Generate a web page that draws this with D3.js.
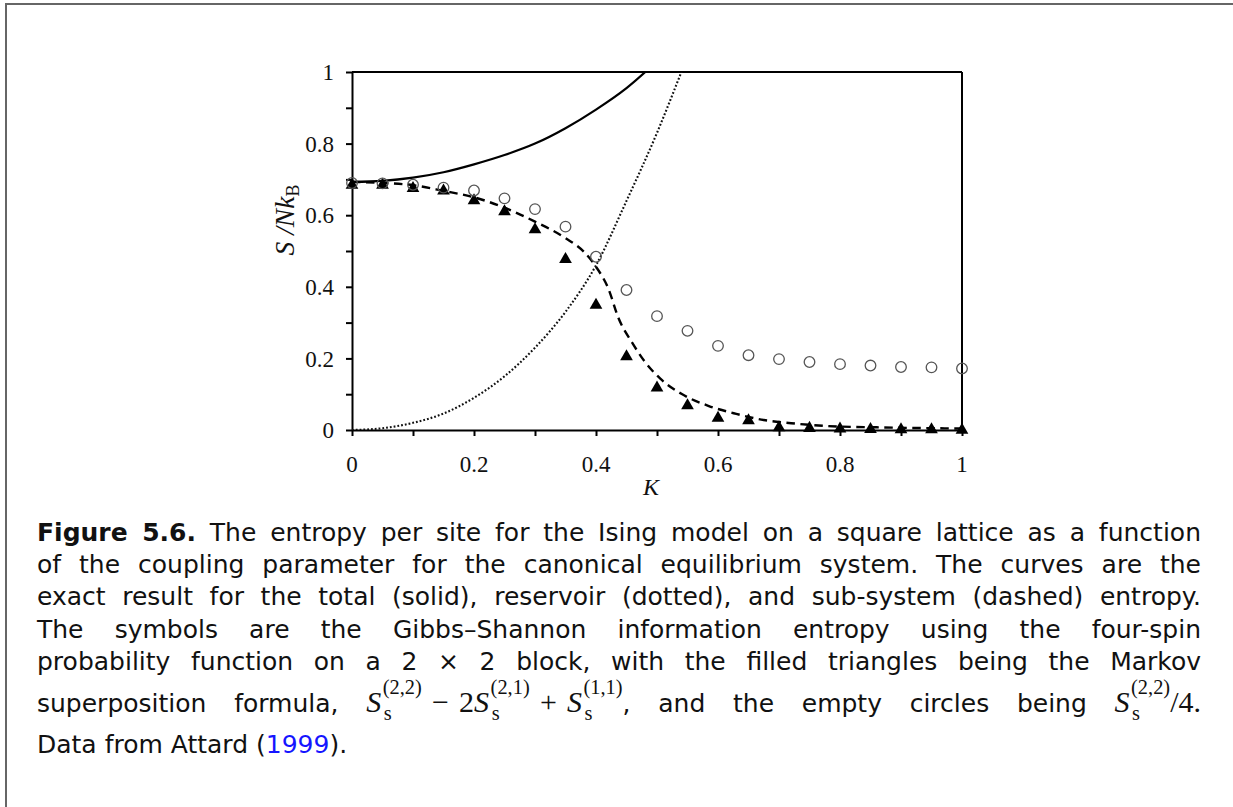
<!DOCTYPE html>
<html>
<head>
<meta charset="utf-8">
<script src="https://cdn.jsdelivr.net/npm/d3@7"></script>
<style>
  html, body { margin: 0; padding: 0; background: #fff; overflow: hidden; }
  body { width: 1233px; height: 807px; position: relative; }
  .frame { position: absolute; left: 5px; top: 3px; width: 1400px; height: 900px;
           border-left: 2px solid #666; border-top: 2px solid #666; }
  svg { position: absolute; left: 0; top: 0; }
  .cap { position: absolute; left: 37px; width: 1164px; font-family: "DejaVu Sans", sans-serif;
         font-size: 25px; line-height: 32px; color: #111; white-space: nowrap; }
  .just { text-align: justify; text-align-last: justify; }
  .cap b { font-weight: bold; }
  .m { font-family: "Liberation Serif", "Times New Roman", serif; font-size: 30px; line-height: 0; white-space: nowrap; }
  .m i { font-style: italic; padding-right: 0.05em; }
  .op { margin: 0 0.34em; }
  .scr { position: relative; font-size: 0.68em; }
  .scr .sup { position: relative; top: -0.86em; }
  .scr .sub { position: absolute; left: 0.05em; top: 0.42em; line-height: 1; }
  a { color: #1515ff; text-decoration: none; }
</style>
</head>
<body>
<div class="frame"></div>
<svg id="chart" width="1233" height="807"></svg>

<div class="cap just" style="top:517px"><b>Figure 5.6.</b> The entropy per site for the Ising model on a square lattice as a function</div>
<div class="cap just" style="top:549px">of the coupling parameter for the canonical equilibrium system. The curves are the</div>
<div class="cap just" style="top:581px">exact result for the total (solid), reservoir (dotted), and sub-system (dashed) entropy.</div>
<div class="cap just" style="top:614px">The symbols are the Gibbs–Shannon information entropy using the four-spin</div>
<div class="cap just" style="top:646px">probability function on a 2 × 2 block, with the filled triangles being the Markov</div>
<div class="cap just" style="top:688px">superposition formula, <span class="m"><i>S</i><span class="scr"><span class="sup">(2,2)</span><span class="sub">s</span></span><span class="op">−</span>2<i>S</i><span class="scr"><span class="sup">(2,1)</span><span class="sub">s</span></span><span class="op">+</span><i>S</i><span class="scr"><span class="sup">(1,1)</span><span class="sub">s</span></span></span>, and the empty circles being <span class="m"><i>S</i><span class="scr"><span class="sup">(2,2)</span><span class="sub">s</span></span>/4.</span></div>
<div class="cap" style="top:729px">Data from Attard (<a>1999</a>).</div>

<script>
// Exact curves: total, reservoir and sub-system entropy per site vs coupling K
const totalK = [0, 0.05, 0.1, 0.15, 0.2, 0.25, 0.3, 0.35, 0.4, 0.45, 0.5];
const totalS = [0.693, 0.696, 0.705, 0.720, 0.742, 0.768, 0.800, 0.843, 0.895, 0.955, 1.03];

const resK = [0, 0.05, 0.1, 0.15, 0.2, 0.25, 0.3, 0.35, 0.4, 0.45, 0.5, 0.54, 0.57];
const resS = [0, 0.005, 0.02, 0.046, 0.09, 0.15, 0.23, 0.33, 0.46, 0.64, 0.83, 1.0, 1.13];

const subK = [0, 0.05, 0.1, 0.15, 0.2, 0.25, 0.3, 0.35, 0.38, 0.40, 0.42, 0.437, 0.46, 0.48, 0.505, 0.54, 0.585, 0.63, 0.675, 0.72, 0.78, 0.86, 1.0];
const subS = [0.693, 0.690, 0.684, 0.668, 0.650, 0.621, 0.582, 0.536, 0.498, 0.456, 0.396, 0.312, 0.242, 0.191, 0.144, 0.101, 0.067, 0.045, 0.028, 0.019, 0.011, 0.0075, 0.004];

// Gibbs–Shannon estimates on a 2x2 block
const symK = [0, 0.05, 0.1, 0.15, 0.2, 0.25, 0.3, 0.35, 0.4, 0.45, 0.5, 0.55, 0.6, 0.65, 0.7, 0.75, 0.8, 0.85, 0.9, 0.95, 1.0];
const markovS = [0.684, 0.684, 0.675, 0.668, 0.641, 0.610, 0.560, 0.477, 0.349, 0.205, 0.118, 0.068, 0.033, 0.026, 0.0065, 0.005, 0.003, 0.002, 0.001, 0.001, 0.0];
const quarterS = [0.690, 0.689, 0.685, 0.677, 0.669, 0.647, 0.617, 0.568, 0.484, 0.391, 0.318, 0.277, 0.235, 0.209, 0.198, 0.190, 0.184, 0.180, 0.176, 0.175, 0.172];

const xMajor = [0, 0.2, 0.4, 0.6, 0.8, 1];
const yMajor = [0, 0.2, 0.4, 0.6, 0.8, 1];
const minorTicks = [0, 0.1, 0.2, 0.3, 0.4, 0.5, 0.6, 0.7, 0.8, 0.9, 1];

const svg = d3.select("#chart");
const x = d3.scaleLinear().domain([0, 1]).range([352, 962]);
const y = d3.scaleLinear().domain([0, 1]).range([430, 72]);
const serif = '"Liberation Serif", "Times New Roman", serif';

svg.append("defs").append("clipPath").attr("id", "plotClip")
  .append("rect").attr("x", x(0)).attr("y", y(1)).attr("width", x(1) - x(0)).attr("height", y(0) - y(1));

// axes
const xAxis = d3.axisBottom(x).tickValues(minorTicks).tickSize(6).tickSizeOuter(0).tickFormat("");
const yAxis = d3.axisLeft(y).tickValues(minorTicks).tickSize(6).tickSizeOuter(0).tickFormat("");
const gx = svg.append("g").attr("transform", `translate(0,${y(0)})`).call(xAxis);
const gy = svg.append("g").attr("transform", `translate(${x(0)},0)`).call(yAxis);
[gx, gy].forEach(g => {
  g.selectAll("path, line").attr("stroke", "#000").attr("stroke-width", 2);
});

// frame top and right
svg.append("line").attr("x1", x(0)).attr("x2", x(1)).attr("y1", y(1)).attr("y2", y(1))
  .attr("stroke", "#000").attr("stroke-width", 2);
svg.append("line").attr("x1", x(1)).attr("x2", x(1)).attr("y1", y(1)).attr("y2", y(0))
  .attr("stroke", "#000").attr("stroke-width", 2);

// tick labels
svg.append("g").selectAll("text").data(xMajor).join("text")
  .attr("x", d => x(d)).attr("y", 472).attr("text-anchor", "middle")
  .attr("font-family", serif).attr("font-size", 23).attr("fill", "#111").text(d => String(d));
svg.append("g").selectAll("text").data(yMajor).join("text")
  .attr("x", 334).attr("y", d => y(d)).attr("dy", "0.36em").attr("text-anchor", "end")
  .attr("font-family", serif).attr("font-size", 23).attr("fill", "#111").text(d => String(d));

// axis titles
svg.append("text").attr("x", 651).attr("y", 495).attr("text-anchor", "middle")
  .attr("font-family", serif).attr("font-size", 24).attr("font-style", "italic").attr("fill", "#111").text("K");
const yt = svg.append("text").attr("transform", "translate(294,220) rotate(-90)").attr("text-anchor", "middle")
  .attr("font-family", serif).attr("font-size", 27.5).attr("fill", "#111");
yt.append("tspan").attr("font-style", "italic").text("S /Nk");
yt.append("tspan").attr("font-size", 18).attr("dy", 5).text("B");

// curves
const plot = svg.append("g").attr("clip-path", "url(#plotClip)");
const line = d3.line().x(d => x(d[0])).y(d => y(d[1])).curve(d3.curveMonotoneX);
plot.append("path").attr("d", line(d3.zip(totalK, totalS)))
  .attr("fill", "none").attr("stroke", "#000").attr("stroke-width", 2.2);
plot.append("path").attr("d", line(d3.zip(resK, resS)))
  .attr("fill", "none").attr("stroke", "#111").attr("stroke-width", 2.1).attr("stroke-dasharray", "1.8,2");
plot.append("path").attr("d", line(d3.zip(subK, subS)))
  .attr("fill", "none").attr("stroke", "#000").attr("stroke-width", 2.4).attr("stroke-dasharray", "8.5,5.5");

// symbols
svg.append("g").selectAll("path").data(d3.zip(symK, markovS)).join("path")
  .attr("transform", d => `translate(${x(d[0])},${y(d[1])})`)
  .attr("d", d3.symbol(d3.symbolTriangle, 70)).attr("fill", "#000");
svg.append("g").selectAll("circle").data(d3.zip(symK, quarterS)).join("circle")
  .attr("cx", d => x(d[0])).attr("cy", d => y(d[1])).attr("r", 5.3)
  .attr("fill", "none").attr("stroke", "#555").attr("stroke-width", 1.3);
</script>
</body>
</html>
